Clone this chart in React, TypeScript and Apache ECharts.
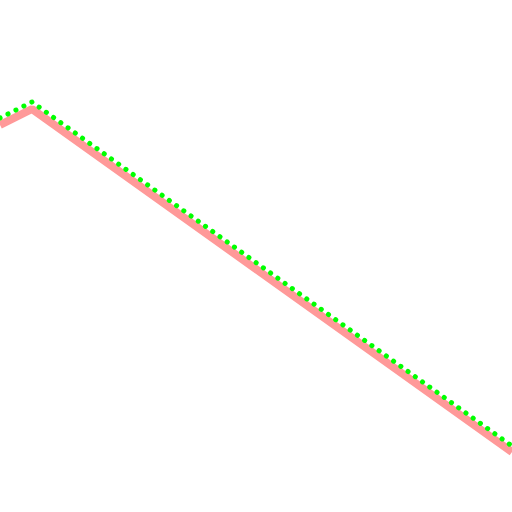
import React, { useEffect, useRef } from "react";
import * as echarts from "echarts";

const xValues = [0, 32, 512];
const pinkValues = [125, 109, 452];
const greenValues = [118, 102, 446];

export default function App() {
  const ref = useRef<HTMLDivElement>(null);
  useEffect(() => {
    const chart = echarts.init(ref.current!, null, { renderer: "svg" });
    chart.setOption({
      animation: false,
      grid: { left: 0, right: 0, top: 0, bottom: 0 },
      xAxis: { type: "value", min: 0, max: 512, show: false },
      yAxis: { type: "value", min: 0, max: 512, inverse: true, show: false },
      series: [
        {
          type: "line",
          data: xValues.map((x, i) => [x, pinkValues[i]]),
          symbol: "none",
          lineStyle: { color: "#ff9999", width: 8 },
        },
        {
          type: "line",
          data: xValues.map((x, i) => [x, greenValues[i]]),
          symbol: "none",
          lineStyle: { color: "#00ff00", width: 5, type: [0.1, 8.8], cap: "round" },
        },
      ],
    });
    return () => chart.dispose();
  }, []);
  return <div ref={ref} style={{ width: 512, height: 512, position: "absolute", left: 0, top: 0 }} />;
}
